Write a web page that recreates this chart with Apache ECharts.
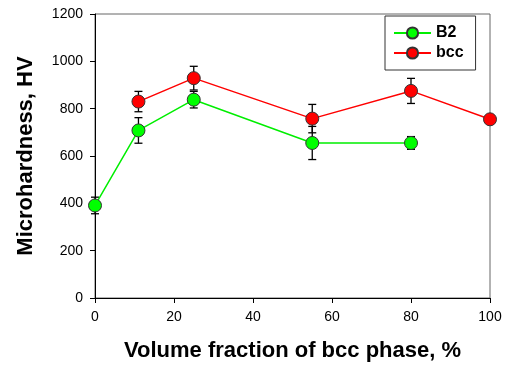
<!DOCTYPE html>
<html>
<head>
<meta charset="utf-8">
<script src="https://cdn.jsdelivr.net/npm/echarts@6/dist/echarts.min.js"></script>
<style>
  html, body { margin: 0; padding: 0; background: #fff; }
  #chart { width: 507px; height: 365px; }
</style>
</head>
<body>
<div id="chart"></div>
<script>
// Microhardness vs. bcc volume fraction
const b2X   = [0, 11, 25, 55, 80];
const b2Y   = [391, 708, 838, 655, 655];
const b2Err = [35, 54, 35, 70, 27];

const bccX   = [11, 25, 55, 80, 100];
const bccY   = [830, 929, 758, 875, 755];
const bccErr = [43, 50, 60, 53, 0];

const xTicks = [0, 20, 40, 60, 80, 100];
const yTicks = [0, 200, 400, 600, 800, 1000, 1200];

const FONT = '"Liberation Sans", Arial, sans-serif';

function pairs(xs, ys) { return xs.map((x, i) => [x, ys[i]]); }
function errRows(xs, ys, es) {
  return xs.map((x, i) => [x, ys[i] - es[i], ys[i] + es[i]]).filter(r => r[2] > r[1]);
}

function errorBarItem(params, api) {
  const x = api.value(0);
  const lo = api.coord([x, api.value(1)]);
  const hi = api.coord([x, api.value(2)]);
  const cap = 4;
  const style = { stroke: '#000', lineWidth: 1.3 };
  return {
    type: 'group',
    children: [
      { type: 'line', shape: { x1: hi[0], y1: hi[1], x2: lo[0], y2: lo[1] }, style },
      { type: 'line', shape: { x1: hi[0] - cap, y1: hi[1], x2: hi[0] + cap, y2: hi[1] }, style },
      { type: 'line', shape: { x1: lo[0] - cap, y1: lo[1], x2: lo[0] + cap, y2: lo[1] }, style }
    ]
  };
}

const chart = echarts.init(document.getElementById('chart'), null, { renderer: 'canvas' });

chart.setOption({
  animation: false,
  backgroundColor: '#fff',
  grid: {
    left: 95, right: 17, top: 14, bottom: 67,
    containLabel: false, outerBoundsMode: 'none',
    show: true, borderColor: '#666', borderWidth: 1
  },
  legend: {
    left: 385, top: 16,
    orient: 'vertical',
    padding: [9, 12, 9, 8],
    itemGap: 4,
    itemWidth: 37, itemHeight: 14,
    borderColor: '#333', borderWidth: 1,
    textStyle: { fontFamily: FONT, fontWeight: 'bold', fontSize: 16, color: '#000', lineHeight: 16 },
    data: ['B2', 'bcc']
  },
  xAxis: {
    type: 'value', min: 0, max: 100, interval: 20,
    name: 'Volume fraction of bcc phase, %',
    nameLocation: 'middle', nameGap: 42,
    nameTextStyle: { fontFamily: FONT, fontWeight: 'bold', fontSize: 22, color: '#000' },
    axisLine: { onZero: false, lineStyle: { color: '#000', width: 1 } },
    axisTick: { show: true, length: 5, lineStyle: { color: '#000' } },
    axisLabel: {
      fontFamily: FONT, fontSize: 14, color: '#000', margin: 12,
      formatter: v => xTicks.includes(v) ? String(v) : ''
    },
    splitLine: { show: false }
  },
  yAxis: {
    type: 'value', min: 0, max: 1200, interval: 200,
    name: 'Microhardness, HV',
    nameLocation: 'middle', nameGap: 58,
    nameTextStyle: { fontFamily: FONT, fontWeight: 'bold', fontSize: 22, color: '#000' },
    axisLine: { show: true, lineStyle: { color: '#000', width: 1 } },
    axisTick: { show: true, length: 5, lineStyle: { color: '#000' } },
    axisLabel: {
      fontFamily: FONT, fontSize: 14, color: '#000', margin: 12,
      formatter: v => yTicks.includes(v) ? String(v) : ''
    },
    splitLine: { show: false }
  },
  series: [
    {
      name: 'B2err', type: 'custom', renderItem: errorBarItem,
      data: errRows(b2X, b2Y, b2Err), z: 1, silent: true
    },
    {
      name: 'bccerr', type: 'custom', renderItem: errorBarItem,
      data: errRows(bccX, bccY, bccErr), z: 1, silent: true
    },
    {
      name: 'B2', type: 'line', data: pairs(b2X, b2Y), z: 3,
      symbol: 'circle', symbolSize: 13,
      lineStyle: { color: '#00ee00', width: 1.5 },
      itemStyle: { color: '#00ff00', borderColor: '#333', borderWidth: 1 }
    },
    {
      name: 'bcc', type: 'line', data: pairs(bccX, bccY), z: 4,
      symbol: 'circle', symbolSize: 13,
      lineStyle: { color: '#ff0000', width: 1.5 },
      itemStyle: { color: '#ff0000', borderColor: '#333', borderWidth: 1 }
    }
  ]
});
</script>
</body>
</html>
